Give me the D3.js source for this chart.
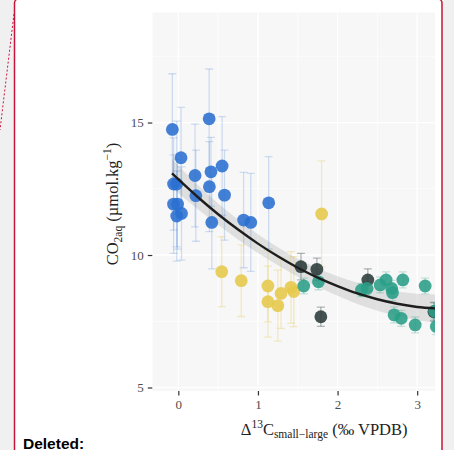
<!DOCTYPE html>
<html lang="en">
<head>
    <meta charset="UTF-8">
    <title>CO2aq vs D13C</title>
    <script src="https://d3js.org/d3.v7.min.js"></script>
    <style>
        body { margin: 0; background: #fff; }
        svg { display: block; }
        .serif { font-family: "Liberation Serif", "DejaVu Serif", serif; }
    </style>
</head>
<body>
<div id="chart"></div>
<script>
    // values
    const blueX   = [-0.075, 0.387, 0.034, 0.21, 0.22, 0.41, 0.55, 0.39, -0.06, -0.02, -0.06, -0.01, -0.02, 0.04, 0.58, 0.42, 0.82, 0.91, 1.135];
    const blueY   = [14.74, 15.14, 13.67, 13.00, 12.24, 13.14, 13.36, 12.58, 12.68, 12.68, 11.92, 11.92, 11.47, 11.57, 12.26, 11.23, 11.32, 11.23, 11.97];
    const blueErr = [2.1, 1.88, 1.9, 1.94, 1.72, 1.3, 1.86, 1.7, 1.74, 2.37, 1.86, 1.7, 1.7, 1.76, 1.7, 1.75, 1.8, 1.85, 1.74];

    const yellowX   = [0.545, 0.79, 1.125, 1.125, 1.25, 1.29, 1.415, 1.45, 1.80];
    const yellowY   = [9.37, 9.03, 8.83, 8.24, 8.09, 8.55, 8.78, 8.62, 11.55];
    const yellowErr = [1.32, 1.35, 1.35, 1.34, 1.34, 1.32, 1.35, 1.32, 2.0];

    const darkX   = [1.54, 1.74, 1.79, 2.38, 3.21];
    const darkY   = [9.56, 9.46, 7.67, 9.06, 7.86];
    const darkErr = [0.5, 0.42, 0.36, 0.42, 0.35];

    const tealX   = [1.575, 1.76, 2.30, 2.37, 2.535, 2.61, 2.68, 2.69, 2.82, 3.10, 2.71, 2.80, 2.975, 3.22, 3.24];
    const tealY   = [8.83, 8.99, 8.68, 8.74, 8.87, 9.06, 8.74, 8.58, 9.06, 8.83, 7.74, 7.61, 7.36, 7.88, 7.30];
    const tealErr = [0.3, 0.3, 0.25, 0.25, 0.3, 0.3, 0.3, 0.3, 0.3, 0.3, 0.3, 0.3, 0.3, 0.3, 0.3];

    // fitted curve and its confidence band
    const fitX    = [-0.08, 0.25, 0.5, 0.75, 1, 1.25, 1.5, 1.75, 2, 2.25, 2.5, 2.75, 3, 3.25];
    const fitY    = [13.08, 12.17, 11.54, 10.96, 10.43, 9.95, 9.52, 9.15, 8.83, 8.55, 8.33, 8.16, 8.04, 7.98];
    const fitBand = [0.55, 0.45, 0.4, 0.37, 0.35, 0.34, 0.34, 0.35, 0.37, 0.4, 0.43, 0.46, 0.5, 0.53];

    const xTicks = [0, 1, 2, 3];
    const yTicks = [5, 10, 15];

    const W = 454, H = 450;
    const svg = d3.select("#chart").append("svg")
        .attr("width", W)
        .attr("height", H);

    // document page around the figure
    svg.append("rect").attr("width", W).attr("height", H).attr("fill", "#f0f0f0");
    svg.append("rect")
        .attr("x", 14.5).attr("y", -1)
        .attr("width", 427.5).attr("height", H + 10)
        .attr("rx", 4)
        .attr("fill", "#fff")
        .attr("stroke", "#c8143c")
        .attr("stroke-width", 1.5);
    svg.append("line")
        .attr("x1", 14).attr("y1", 14).attr("x2", 0).attr("y2", 130)
        .attr("stroke", "#c8143c")
        .attr("stroke-dasharray", "2,2");
    svg.append("text")
        .attr("x", 23).attr("y", 448.5)
        .attr("font-family", "Liberation Sans, Arial, sans-serif")
        .attr("font-weight", "bold")
        .attr("font-size", 15.5)
        .attr("fill", "#000")
        .text("Deleted:");

    // panel (the figure is cut by the frame at x = 435)
    const panel = {left: 152.3, top: 12.3, right: 496, bottom: 391, cut: 435};

    const x = d3.scaleLinear().domain([-0.327, 3.99]).range([panel.left, panel.right]);
    const y = d3.scaleLinear().domain([4.868, 19.16]).range([panel.bottom, panel.top]);

    svg.append("clipPath").attr("id", "clip")
        .append("rect")
        .attr("x", panel.left).attr("y", panel.top)
        .attr("width", panel.cut - panel.left).attr("height", panel.bottom - panel.top);

    const g = svg.append("g").attr("clip-path", "url(#clip)");

    g.append("rect")
        .attr("x", panel.left).attr("y", panel.top)
        .attr("width", panel.right - panel.left).attr("height", panel.bottom - panel.top)
        .attr("fill", "#f7f7f7");

    // grid
    const xMinor = [0.5, 1.5, 2.5, 3.5];
    const yMinor = [7.5, 12.5, 17.5];
    g.selectAll(".gxm").data(xMinor).enter().append("line")
        .attr("x1", d => x(d)).attr("x2", d => x(d))
        .attr("y1", panel.top).attr("y2", panel.bottom)
        .attr("stroke", "#fff").attr("stroke-width", 0.7);
    g.selectAll(".gym").data(yMinor).enter().append("line")
        .attr("x1", panel.left).attr("x2", panel.right)
        .attr("y1", d => y(d)).attr("y2", d => y(d))
        .attr("stroke", "#fff").attr("stroke-width", 0.7);
    g.selectAll(".gx").data(xTicks).enter().append("line")
        .attr("x1", d => x(d)).attr("x2", d => x(d))
        .attr("y1", panel.top).attr("y2", panel.bottom)
        .attr("stroke", "#fff").attr("stroke-width", 1.3);
    g.selectAll(".gy").data(yTicks).enter().append("line")
        .attr("x1", panel.left).attr("x2", panel.right)
        .attr("y1", d => y(d)).attr("y2", d => y(d))
        .attr("stroke", "#fff").attr("stroke-width", 1.3);

    // series
    const zip = (xs, ys, es) => xs.map((v, i) => ({x: v, y: ys[i], e: es[i]}));
    const series = [
        {data: zip(blueX, blueY, blueErr), color: "#2a6fd0", barOp: 0.2},
        {data: zip(yellowX, yellowY, yellowErr), color: "#e6c84a", barOp: 0.3},
        {data: zip(darkX, darkY, darkErr), color: "#2b3a3a", barOp: 0.35},
        {data: zip(tealX, tealY, tealErr), color: "#2a9e88", barOp: 0.25}
    ];

    // confidence band
    const fit = fitX.map((v, i) => ({x: v, y: fitY[i], b: fitBand[i]}));
    g.append("path")
        .datum(fit)
        .attr("fill", "#999")
        .attr("fill-opacity", 0.25)
        .attr("d", d3.area().curve(d3.curveMonotoneX)
            .x(d => x(d.x)).y0(d => y(d.y - d.b)).y1(d => y(d.y + d.b)));

    series.forEach(s => {
        const eb = g.append("g")
            .attr("stroke", s.color)
            .attr("stroke-opacity", s.barOp)
            .attr("stroke-width", 1.3);
        eb.selectAll("line.v").data(s.data).enter().append("line")
            .attr("x1", d => x(d.x)).attr("x2", d => x(d.x))
            .attr("y1", d => y(d.y - d.e)).attr("y2", d => y(d.y + d.e));
        eb.selectAll("line.t").data(s.data).enter().append("line")
            .attr("x1", d => x(d.x) - 4).attr("x2", d => x(d.x) + 4)
            .attr("y1", d => y(d.y + d.e)).attr("y2", d => y(d.y + d.e));
        eb.selectAll("line.b").data(s.data).enter().append("line")
            .attr("x1", d => x(d.x) - 4).attr("x2", d => x(d.x) + 4)
            .attr("y1", d => y(d.y - d.e)).attr("y2", d => y(d.y - d.e));
    });

    series.forEach(s => {
        g.append("g").selectAll("circle").data(s.data).enter().append("circle")
            .attr("cx", d => x(d.x))
            .attr("cy", d => y(d.y))
            .attr("r", 6.4)
            .attr("fill", s.color)
            .attr("fill-opacity", 0.88);
    });

    g.append("path")
        .datum(fit)
        .attr("fill", "none")
        .attr("stroke", "#1e1e1e")
        .attr("stroke-width", 2.4)
        .attr("d", d3.line().curve(d3.curveMonotoneX).x(d => x(d.x)).y(d => y(d.y)));

    // axes
    const yAxis = svg.append("g")
        .attr("transform", `translate(${panel.left},0)`)
        .call(d3.axisLeft(y).tickValues(yTicks).tickFormat(d3.format("d")).tickSize(4.5).tickPadding(4));
    const xAxis = svg.append("g")
        .attr("transform", `translate(0,${panel.bottom})`)
        .call(d3.axisBottom(x).tickValues(xTicks).tickFormat(d3.format("d")).tickSize(4.5).tickPadding(4));
    [xAxis, yAxis].forEach(a => {
        a.attr("font-family", "Liberation Serif, DejaVu Serif, serif").attr("font-size", 13);
        a.select(".domain").remove();
        a.selectAll(".tick line").attr("stroke", "#333").attr("stroke-width", 1.2);
        a.selectAll(".tick text").attr("fill", "#4d4d4d");
    });

    // axis titles
    const yl = svg.append("text")
        .attr("class", "serif")
        .attr("transform", "translate(118,204) rotate(-90)")
        .attr("text-anchor", "middle")
        .attr("font-size", 16.5)
        .attr("fill", "#222");
    yl.append("tspan").text("CO");
    yl.append("tspan").attr("font-size", 11.5).attr("dy", 4).text("2aq");
    yl.append("tspan").attr("dy", -4).text(" (µmol.kg");
    yl.append("tspan").attr("font-size", 11.5).attr("dy", -7).text("−1");
    yl.append("tspan").attr("dy", 7).text(")");

    const xl = svg.append("text")
        .attr("class", "serif")
        .attr("x", (panel.left + panel.right) / 2)
        .attr("y", 435)
        .attr("text-anchor", "middle")
        .attr("font-size", 16.5)
        .attr("fill", "#222");
    xl.append("tspan").text("Δ");
    xl.append("tspan").attr("font-size", 11.5).attr("dy", -7).text("13");
    xl.append("tspan").attr("dy", 7).text("C");
    xl.append("tspan").attr("font-size", 11.5).attr("dy", 3).text("small−large");
    xl.append("tspan").attr("dy", -3).text(" (‰ VPDB)");
</script>
</body>
</html>
